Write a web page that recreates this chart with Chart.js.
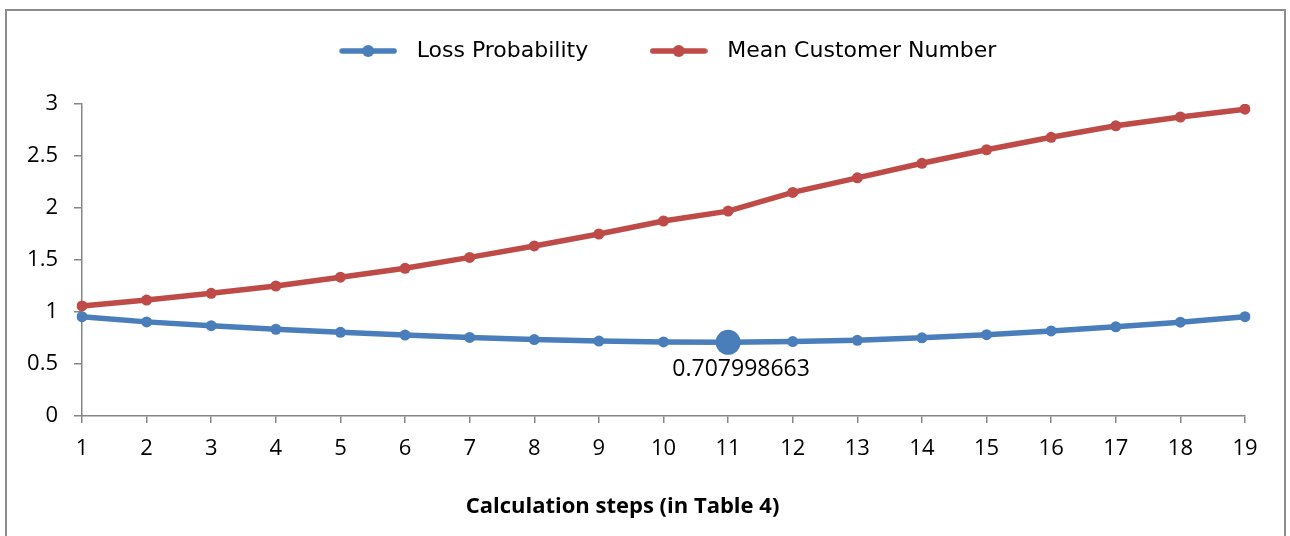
<!DOCTYPE html>
<html>
<head>
<meta charset="utf-8">
<script src="https://cdn.jsdelivr.net/npm/chart.js@4.4.1/dist/chart.umd.min.js"></script>
<style>
  html, body { margin: 0; padding: 0; background: #fff; }
  #wrap { position: relative; width: 1290px; height: 536px; overflow: hidden; }
  #frame { position: absolute; left: 5px; top: 9px; width: 1281px; height: 560px; border: 2px solid #8c8c8c; box-sizing: border-box; }
  #chart { position: absolute; left: 0; top: 0; }
</style>
</head>
<body>
<div id="wrap">
  <div id="frame"></div>
  <canvas id="chart" width="1290" height="536"></canvas>
</div>
<script>
// data
var steps = ['1', '2', '3', '4', '5', '6', '7', '8', '9', '10', '11', '12', '13', '14', '15', '16', '17', '18', '19'];
var lossProb = [0.955, 0.905, 0.868, 0.834, 0.805, 0.778, 0.755, 0.735, 0.72, 0.712, 0.707998663, 0.716, 0.728, 0.752, 0.782, 0.818, 0.858, 0.902, 0.955];
var meanCustomers = [1.058, 1.115, 1.18, 1.25, 1.335, 1.42, 1.525, 1.635, 1.75, 1.875, 1.97, 2.15, 2.29, 2.43, 2.56, 2.68, 2.79, 2.875, 2.95];
var seriesNames = ['Loss Probability', 'Mean Customer Number'];
var xTitle = 'Calculation steps (in Table 4)';
var highlightIndex = 10;

var blue = '#4a7ebb';
var red = '#be4b48';
var axisGray = '#868686';
var tickFont = { family: '"Open Sans", sans-serif', size: 22 };

// legend symbol: short thick line with a dot
function legendSymbol(color) {
    var c = document.createElement('canvas');
    c.width = 58;
    c.height = 14;
    var g = c.getContext('2d');
    g.strokeStyle = color;
    g.lineWidth = 5.5;
    g.lineCap = 'round';
    g.beginPath();
    g.moveTo(3, 7);
    g.lineTo(55, 7);
    g.stroke();
    g.fillStyle = color;
    g.beginPath();
    g.arc(29, 7, 6, 0, Math.PI * 2);
    g.fill();
    return c;
}
var symbols = [legendSymbol(blue), legendSymbol(red)];

var blueRadius = lossProb.map(function (_, i) { return i === highlightIndex ? 12.5 : 5.5; });

// label under the highlighted point
var pointLabel = {
    id: 'pointLabel',
    afterDatasetsDraw: function (chart) {
        var pt = chart.getDatasetMeta(0).data[highlightIndex];
        var ctx = chart.ctx;
        ctx.save();
        ctx.font = '23px "Open Sans", sans-serif';
        ctx.fillStyle = '#000';
        ctx.textAlign = 'center';
        ctx.textBaseline = 'middle';
        ctx.fillText(String(lossProb[highlightIndex]), pt.x + 13, pt.y + 27);
        ctx.restore();
    }
};

// fixed legend height so the plot starts where it does in the picture,
// then nudge the legend row to where it sits in the picture
var legendPlace = {
    id: 'legendPlace',
    beforeInit: function (chart) {
        var lg = chart.legend;
        if (!lg) return;
        var fit = lg.fit;
        lg.fit = function () {
            fit.call(this);
            this.height = 104;
        };
    },
    afterLayout: function (chart) {
        var lg = chart.legend;
        lg.left += 41;
        lg.right += 41;
        lg.top -= 13;
        lg.bottom -= 13;
    }
};

new Chart(document.getElementById('chart'), {
    type: 'line',
    data: {
        labels: steps,
        datasets: [{
            label: seriesNames[0],
            data: lossProb,
            borderColor: blue,
            backgroundColor: blue,
            borderWidth: 5.5,
            pointRadius: blueRadius,
            pointBorderWidth: 0,
            tension: 0,
            fill: false
        }, {
            label: seriesNames[1],
            data: meanCustomers,
            borderColor: red,
            backgroundColor: red,
            borderWidth: 5.5,
            pointRadius: 5.5,
            pointBorderWidth: 0,
            tension: 0,
            fill: false
        }]
    },
    options: {
        responsive: false,
        animation: false,
        layout: { padding: { left: 0, right: 45, top: 0, bottom: 0 } },
        plugins: {
            tooltip: { enabled: false },
            title: {
                display: true,
                position: 'bottom',
                text: xTitle,
                color: '#000',
                font: { family: '"Open Sans", sans-serif', size: 22, weight: 'bold' },
                padding: { top: 0, bottom: 16 }
            },
            legend: {
                position: 'top',
                labels: {
                    usePointStyle: true,
                    pointStyleWidth: 75,
                    padding: 53,
                    color: '#000',
                    font: { family: '"Comic Sans MS", "DejaVu Sans", sans-serif', size: 22 },
                    generateLabels: function (chart) {
                        return chart.data.datasets.map(function (ds, i) {
                            return {
                                text: ds.label,
                                pointStyle: symbols[i],
                                fillStyle: ds.borderColor,
                                strokeStyle: ds.borderColor,
                                lineWidth: 0,
                                datasetIndex: i,
                                hidden: false
                            };
                        });
                    }
                }
            }
        },
        scales: {
            x: {
                offset: false,
                grid: { drawOnChartArea: false, drawTicks: true, tickLength: 7, color: axisGray, lineWidth: 1.5 },
                border: { color: axisGray, width: 1.5 },
                ticks: { color: '#000', padding: 13, maxRotation: 0, font: tickFont },
                afterFit: function (scale) { scale.height = 120 - 42.4; }
            },
            y: {
                min: 0,
                max: 3,
                grid: { drawOnChartArea: false, drawTicks: true, tickLength: 8, color: axisGray, lineWidth: 1.5 },
                border: { color: axisGray, width: 1.5 },
                ticks: {
                    stepSize: 0.5,
                    color: '#000',
                    padding: 16,
                    font: tickFont,
                    callback: function (v) { return String(v); }
                },
                afterFit: function (scale) { scale.width = 82; }
            }
        }
    },
    plugins: [legendPlace, pointLabel]
});
</script>
</body>
</html>
